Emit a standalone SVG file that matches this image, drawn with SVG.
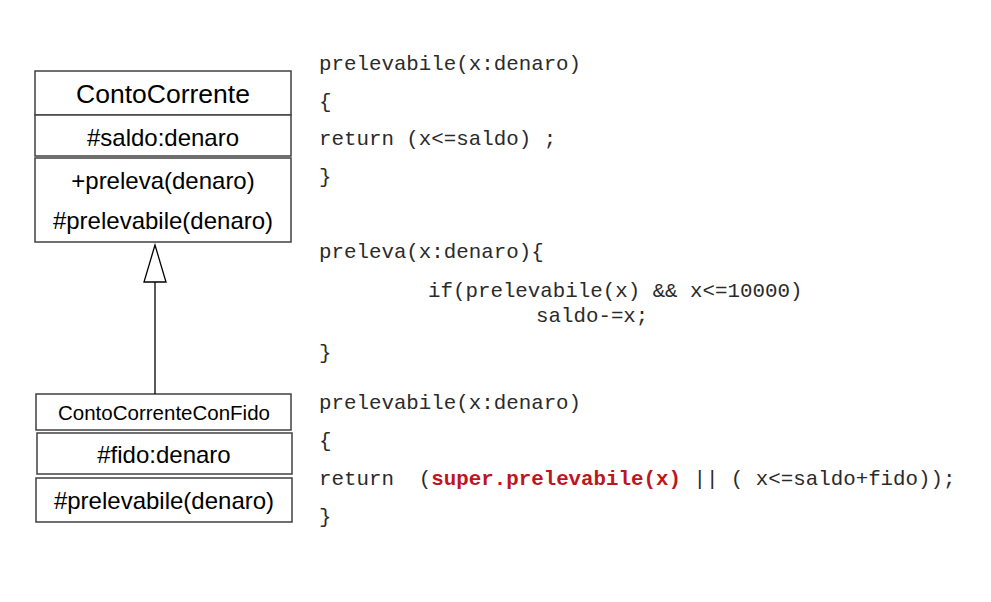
<svg xmlns="http://www.w3.org/2000/svg" width="991" height="602" viewBox="0 0 991 602">
<style>
.box{fill:#fff;stroke:#404040;stroke-width:1.5}
.uml{font-family:"Liberation Sans",Arial,sans-serif;fill:#000;text-anchor:middle}
.code{font-family:"Liberation Mono","Courier New",monospace;font-size:20.8px;fill:#2a2a2a}
.kw{fill:#c0141e;font-weight:bold}
.conn{stroke:#000;stroke-width:1.3;fill:none}
</style>
<rect width="991" height="602" fill="#fff"/>
<g id="ContoCorrente">
<rect class="box" x="35" y="71" width="256" height="44"/>
<rect class="box" x="35" y="115" width="256" height="41"/>
<rect class="box" x="35" y="158" width="256" height="84"/>
<text class="uml" x="163" y="103" font-size="26.5">ContoCorrente</text>
<text class="uml" x="163" y="146" font-size="24">#saldo:denaro</text>
<text class="uml" x="163" y="189" font-size="24">+preleva(denaro)</text>
<text class="uml" x="163" y="229" font-size="24">#prelevabile(denaro)</text>
</g>
<g id="ContoCorrenteConFido">
<rect class="box" x="36" y="394" width="255" height="36"/>
<rect class="box" x="37" y="433" width="255" height="41"/>
<rect class="box" x="36" y="478" width="256" height="44"/>
<text class="uml" x="164" y="420" font-size="20.5">ContoCorrenteConFido</text>
<text class="uml" x="164" y="463" font-size="24">#fido:denaro</text>
<text class="uml" x="164" y="509" font-size="24">#prelevabile(denaro)</text>
</g>
<g id="connectors">
<line class="conn" x1="155" y1="394" x2="155" y2="282"/>
<polygon class="conn" points="155,245 144,282 166,282" fill="#fff"/>
</g>
<g id="code1" class="code">
<text x="319" y="70">prelevabile(x:denaro)</text>
<text x="319" y="108">{</text>
<text x="319" y="145" xml:space="preserve">return (x&lt;=saldo) ;</text>
<text x="319" y="183">}</text>
</g>
<g id="code2" class="code">
<text x="319" y="258">preleva(x:denaro){</text>
<text x="428" y="297" xml:space="preserve">if(prelevabile(x) &amp;&amp; x&lt;=10000)</text>
<text x="536" y="322">saldo-=x;</text>
<text x="319" y="359">}</text>
</g>
<g id="code3" class="code">
<text x="319" y="409">prelevabile(x:denaro)</text>
<text x="319" y="447">{</text>
<text x="319" y="485" xml:space="preserve">return  (<tspan class="kw">super.prelevabile(x)</tspan> || ( x&lt;=saldo+fido));</text>
<text x="319" y="523">}</text>
</g>
</svg>
